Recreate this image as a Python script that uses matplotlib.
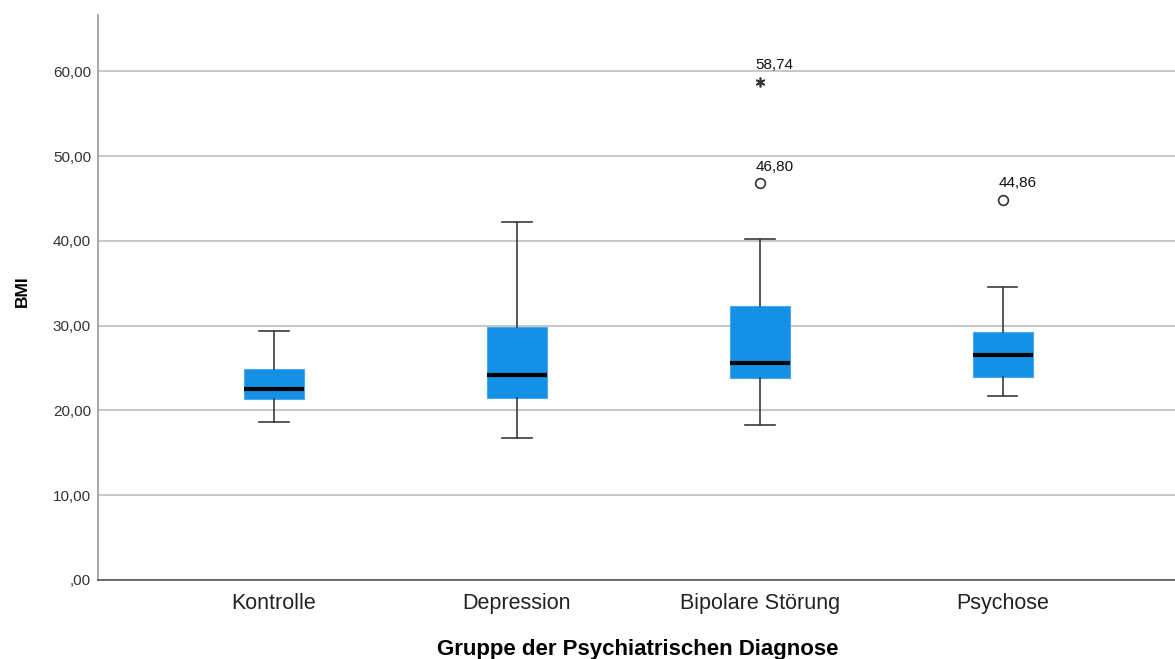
import matplotlib
matplotlib.use("Agg")
import matplotlib.pyplot as plt
from matplotlib.ticker import FuncFormatter, MultipleLocator

plt.rcParams["font.family"] = ["Liberation Sans", "DejaVu Sans"]

# Five-number summaries per diagnosis group (BMI)
groups = ["Kontrolle", "Depression", "Bipolare Störung", "Psychose"]
whisker_low = [18.67, 16.78, 18.31, 21.73]
q1 = [21.31, 21.46, 23.86, 23.90]
median = [22.49, 24.21, 25.63, 26.50]
q3 = [24.88, 29.80, 32.30, 29.28]
whisker_high = [29.36, 42.20, 40.18, 34.59]

# Outliers: group index, value, marker ("o" = outlier, "*" = extreme)
outlier_group = [2, 2, 3]
outlier_value = [58.74, 46.80, 44.86]
outlier_marker = ["*", "o", "o"]

box_color = "#1490E6"

fig = plt.figure(figsize=(11.75, 6.59), dpi=100)
ax = fig.add_axes([0.0834, 0.1199, 0.9166, 0.8566])

stats = []
for i, g in enumerate(groups):
    stats.append(dict(label=g, whislo=whisker_low[i], q1=q1[i], med=median[i],
                      q3=q3[i], whishi=whisker_high[i], fliers=[]))

positions = list(range(1, len(groups) + 1))
ax.bxp(stats, positions=positions, widths=0.247, patch_artist=True,
       showfliers=False,
       boxprops=dict(facecolor=box_color, edgecolor="#4aa8ee", linewidth=0.8),
       medianprops=dict(color="black", linewidth=3, solid_capstyle="butt"),
       whiskerprops=dict(color="#3a3a3a", linewidth=1.2),
       capprops=dict(color="#3a3a3a", linewidth=1.2),
       capwidths=0.123, zorder=3)

for gi, val, mk in zip(outlier_group, outlier_value, outlier_marker):
    x = positions[gi]
    if mk == "*":
        ax.plot(x, val, marker=(6, 2, 0), markersize=7, color="#333333",
                markeredgewidth=1.2, linestyle="none", zorder=4)
    else:
        ax.plot(x, val, marker="o", markersize=7, markerfacecolor="white",
                markeredgecolor="#333333", markeredgewidth=1.2,
                linestyle="none", zorder=4)
    ax.annotate(f"{val:.2f}".replace(".", ","), xy=(x, val),
                xytext=(-3, 7), textcoords="offset points",
                ha="left", va="bottom", fontsize=11, color="#111111")

ax.set_xlim(0.276, 4.71)
ax.set_ylim(0, 66.6)

ax.yaxis.set_major_locator(MultipleLocator(10))


def comma_fmt(v, pos):
    s = f"{v:.2f}".replace(".", ",")
    if s.startswith("0,"):
        s = s[1:]
    return s


ax.yaxis.set_major_formatter(FuncFormatter(comma_fmt))
ax.grid(axis="y", color="#c8c8c8", linewidth=1.5, zorder=0)
ax.set_axisbelow(True)

ax.set_xticks(positions)
ax.set_xticklabels(groups, fontsize=15.5, color="#222222")
ax.tick_params(axis="x", length=0, pad=9.5)
ax.tick_params(axis="y", length=0, pad=5, labelsize=11, labelcolor="#333333")

for side in ["top", "right"]:
    ax.spines[side].set_visible(False)
ax.spines["left"].set_color("#9a9a9a")
ax.spines["left"].set_linewidth(1.2)
ax.spines["bottom"].set_color("#555555")
ax.spines["bottom"].set_linewidth(1.2)

ax.set_xlabel("Gruppe der Psychiatrischen Diagnose", fontsize=16,
              fontweight="bold")
ax.xaxis.set_label_coords(0.501, -0.1045)
ax.set_ylabel("BMI", fontsize=12.5, fontweight="bold")
ax.yaxis.set_label_coords(-0.0635, 0.512)

fig.savefig("out.png", dpi=100)
